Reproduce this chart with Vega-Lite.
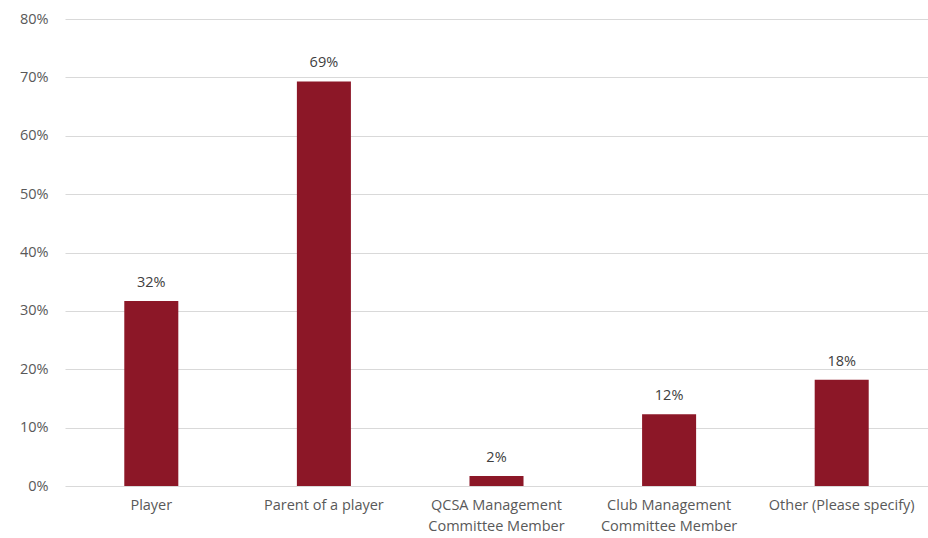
{
  "$schema": "https://vega.github.io/schema/vega-lite/v6.json",
  "autosize": {"type": "none"},
  "padding": {"left": 65, "top": 19, "right": 0, "bottom": 52},
  "width": 863,
  "height": 467,
  "background": "white",
  "config": {
    "view": {"stroke": null},
    "font": "Open Sans",
    "axis": {"labelFont": "Open Sans", "labelColor": "#595959", "labelFontSize": 14.5}
  },
  "data": {
    "values": [
      {"role": "Player", "share": 0.317},
      {"role": "Parent of a player", "share": 0.693},
      {"role": "QCSA Management Committee Member", "share": 0.017},
      {"role": "Club Management Committee Member", "share": 0.123},
      {"role": "Other (Please specify)", "share": 0.182}
    ]
  },
  "encoding": {
    "x": {
      "field": "role",
      "type": "nominal",
      "sort": null,
      "scale": {"paddingInner": 0.687, "paddingOuter": 0.3435},
      "axis": {
        "title": null,
        "labelAngle": 0,
        "domain": false,
        "ticks": false,
        "labelPadding": 12,
        "labelLineHeight": 21,
        "labelExpr": "datum.value == 'QCSA Management Committee Member' ? ['QCSA Management', 'Committee Member'] : datum.value == 'Club Management Committee Member' ? ['Club Management', 'Committee Member'] : datum.value"
      }
    },
    "y": {
      "field": "share",
      "type": "quantitative",
      "scale": {"domain": [0, 0.8]},
      "axis": {
        "title": null,
        "format": ".0%",
        "values": [0, 0.1, 0.2, 0.3, 0.4, 0.5, 0.6, 0.7, 0.8],
        "labelOverlap": false,
        "domain": false,
        "ticks": false,
        "labelPadding": 17,
        "gridColor": "#d9d9d9",
        "gridWidth": 1
      }
    }
  },
  "layer": [
    {"mark": {"type": "bar", "color": "#8c1727"}},
    {
      "mark": {"type": "text", "dy": -18, "fontSize": 14.5, "color": "#404040", "font": "Open Sans"},
      "encoding": {"text": {"field": "share", "type": "quantitative", "format": ".0%"}}
    }
  ]
}
